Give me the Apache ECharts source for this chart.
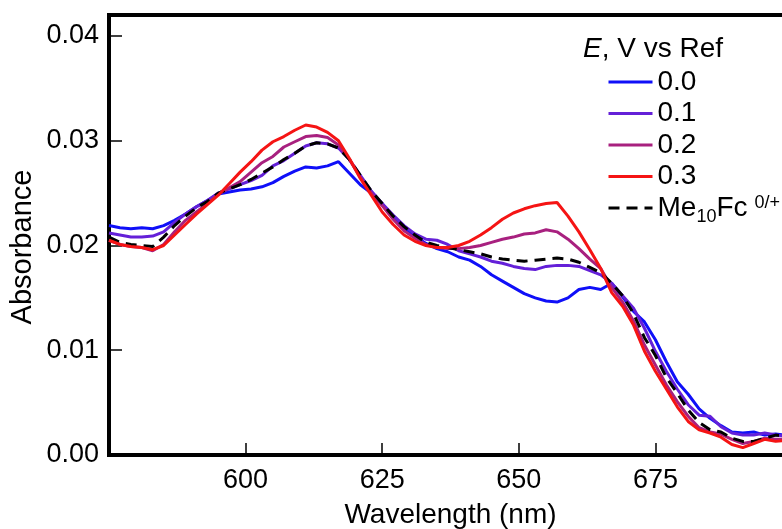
<!DOCTYPE html>
<html>
<head>
<meta charset="utf-8">
<script src="https://cdn.jsdelivr.net/npm/echarts@6/dist/echarts.min.js"></script>
<style>
  html, body { margin: 0; padding: 0; background: #fff; }
  #chart { width: 782px; height: 529px; }
</style>
</head>
<body>
<div id="chart"></div>
<script>
// wavelength (nm)
var wavelengths = [575, 577, 579, 581, 583, 585, 587, 589, 591, 593, 595, 597, 599, 601, 603, 605, 607, 609, 611, 613,
    615, 617, 619, 621, 623, 625, 627, 629, 631, 633, 635, 637, 639, 641, 643, 645, 647, 649, 651, 653,
    655, 657, 659, 661, 663, 665, 667, 669, 671, 673, 675, 677, 679, 681, 683, 685, 687, 689, 691, 693,
    695, 697, 699];

// absorbance at E = 0.0 V
var abs00 = [0.0219, 0.0217, 0.0216, 0.0217, 0.0216, 0.0219, 0.0224, 0.0230, 0.0237, 0.0243, 0.0249, 0.0251, 0.0253, 0.0254, 0.0256, 0.0260, 0.0266, 0.0271, 0.0275, 0.0274,
    0.0276, 0.0280, 0.0269, 0.0258, 0.0250, 0.0240, 0.0227, 0.0216, 0.0209, 0.0202, 0.0197, 0.0194, 0.0189, 0.0186, 0.0180, 0.0172, 0.0166, 0.0160, 0.0154, 0.0150,
    0.0147, 0.0146, 0.0150, 0.0158, 0.0160, 0.0158, 0.0164, 0.0151, 0.0137, 0.0127, 0.0110, 0.0089, 0.0070, 0.0058, 0.0044, 0.0035, 0.0028, 0.0022, 0.0021, 0.0022,
    0.0019, 0.0020, 0.0019];

// E = 0.1 V
var abs01 = [0.0212, 0.0210, 0.0208, 0.0208, 0.0209, 0.0213, 0.0222, 0.0230, 0.0237, 0.0243, 0.0250, 0.0254, 0.0258, 0.0262, 0.0267, 0.0276, 0.0281, 0.0288, 0.0295, 0.0298,
    0.0297, 0.0293, 0.0282, 0.0267, 0.0252, 0.0240, 0.0229, 0.0219, 0.0211, 0.0206, 0.0205, 0.0201, 0.0195, 0.0192, 0.0189, 0.0185, 0.0183, 0.0180, 0.0178, 0.0177,
    0.0180, 0.0181, 0.0181, 0.0180, 0.0176, 0.0172, 0.0164, 0.0152, 0.0140, 0.0121, 0.0099, 0.0080, 0.0063, 0.0048, 0.0038, 0.0037, 0.0027, 0.0021, 0.0019, 0.0019,
    0.0021, 0.0019, 0.0018];

// E = 0.2 V
var abs02 = [0.0205, 0.0201, 0.0199, 0.0198, 0.0195, 0.0201, 0.0213, 0.0224, 0.0232, 0.0240, 0.0249, 0.0255, 0.0261, 0.0270, 0.0279, 0.0285, 0.0294, 0.0299, 0.0304, 0.0305,
    0.0303, 0.0296, 0.0282, 0.0265, 0.0250, 0.0238, 0.0225, 0.0214, 0.0207, 0.0201, 0.0198, 0.0197, 0.0197, 0.0198, 0.0200, 0.0203, 0.0206, 0.0208, 0.0211, 0.0212,
    0.0215, 0.0213, 0.0206, 0.0197, 0.0187, 0.0178, 0.0160, 0.0146, 0.0128, 0.0105, 0.0086, 0.0067, 0.0051, 0.0037, 0.0026, 0.0022, 0.0020, 0.0015, 0.0011, 0.0013,
    0.0016, 0.0015, 0.0015];

// E = 0.3 V
var abs03 = [0.0205, 0.0201, 0.0199, 0.0198, 0.0196, 0.0200, 0.0210, 0.0220, 0.0230, 0.0239, 0.0248, 0.0259, 0.0270, 0.0280, 0.0291, 0.0299, 0.0304, 0.0310, 0.0315, 0.0313,
    0.0308, 0.0300, 0.0283, 0.0264, 0.0248, 0.0232, 0.0220, 0.0210, 0.0204, 0.0200, 0.0198, 0.0198, 0.0200, 0.0204, 0.0210, 0.0217, 0.0225, 0.0231, 0.0235, 0.0238,
    0.0240, 0.0241, 0.0228, 0.0213, 0.0196, 0.0178, 0.0155, 0.0142, 0.0124, 0.0099, 0.0080, 0.0063, 0.0046, 0.0032, 0.0024, 0.0021, 0.0017, 0.0010, 0.0007, 0.0011,
    0.0015, 0.0013, 0.0014];

// Me10Fc 0/+ reference
var absFc = [0.0208, 0.0203, 0.0201, 0.0200, 0.0199, 0.0208, 0.0219, 0.0228, 0.0236, 0.0242, 0.0250, 0.0254, 0.0258, 0.0263, 0.0269, 0.0275, 0.0282, 0.0288, 0.0295, 0.0298,
    0.0297, 0.0293, 0.0282, 0.0267, 0.0252, 0.0240, 0.0228, 0.0218, 0.0210, 0.0203, 0.0200, 0.0198, 0.0196, 0.0194, 0.0192, 0.0189, 0.0187, 0.0186, 0.0185, 0.0186,
    0.0187, 0.0188, 0.0187, 0.0184, 0.0179, 0.0174, 0.0164, 0.0152, 0.0135, 0.0112, 0.0095, 0.0074, 0.0059, 0.0043, 0.0031, 0.0024, 0.0022, 0.0016, 0.0013, 0.0013,
    0.0016, 0.0019, 0.0018];

var legendOrder = ['0.0', '0.1', '0.2', '0.3', 'Me10Fc'];

var FONT = 'Liberation Sans, Arial, sans-serif';

function pares(ys) {
    return wavelengths.map(function (x, i) { return [x, ys[i]]; });
}

function serie(nome, ys, cor, tipo) {
    return {
        name: nome,
        type: 'line',
        symbol: 'none',
        showSymbol: false,
        data: pares(ys),
        lineStyle: { color: cor, width: 3, type: tipo || 'solid' },
        itemStyle: { color: cor },
        emphasis: { disabled: true }
    };
}

var chart = echarts.init(document.getElementById('chart'));

chart.setOption({
    animation: false,
    backgroundColor: '#fff',
    grid: {
        left: 109, top: 15, width: 683, height: 440,
        outerBoundsMode: 'none', containLabel: false,
        show: true, borderColor: '#000', borderWidth: 4, backgroundColor: 'transparent'
    },
    xAxis: {
        type: 'value', min: 575, max: 700, interval: 25,
        name: 'Wavelength (nm)', nameLocation: 'middle', nameGap: 46,
        nameTextStyle: { fontFamily: FONT, fontSize: 28, color: '#000' },
        axisLine: { lineStyle: { color: '#000', width: 4 } },
        axisTick: { inside: true, length: 12, lineStyle: { color: '#000', width: 1.5 } },
        axisLabel: { showMinLabel: false, showMaxLabel: false, margin: 12, fontFamily: FONT, fontSize: 27, color: '#000' },
        splitLine: { show: false }
    },
    yAxis: {
        type: 'value', min: 0, max: 0.042, interval: 0.01,
        axisLine: { lineStyle: { color: '#000', width: 4 } },
        axisTick: { inside: true, length: 13, lineStyle: { color: '#000', width: 1.5 } },
        axisLabel: {
            showMaxLabel: false, margin: 10, fontFamily: FONT, fontSize: 27, color: '#000',
            formatter: function (v) { return v.toFixed(2); }
        },
        splitLine: { show: false }
    },
    legend: {
        data: legendOrder,
        orient: 'vertical',
        left: 607, top: 68,
        padding: 0,
        itemWidth: 44, itemHeight: 26, itemGap: 3.5,
        itemStyle: { opacity: 0 },
        lineStyle: { width: 3 },
        textStyle: {
            fontFamily: FONT, fontSize: 28, color: '#000',
            rich: {
                t: { fontFamily: FONT, fontSize: 28, color: '#000' },
                s: { fontFamily: FONT, fontSize: 18, color: '#000', verticalAlign: 'bottom', padding: [0, 0, -4, 0] },
                p: { fontFamily: FONT, fontSize: 18, color: '#000', verticalAlign: 'top', padding: [0, 0, 0, 7] }
            }
        },
        formatter: function (nome) {
            if (nome === 'Me10Fc') {
                return '{t|Me}{s|10}{t|Fc}{p|0/+}';
            }
            return nome;
        }
    },
    graphic: [
        {
            type: 'text', left: 583, top: 35,
            style: {
                text: '{i|E}, V vs Ref',
                fontFamily: FONT, fontSize: 28, fill: '#000',
                rich: { i: { fontFamily: FONT, fontSize: 28, fontStyle: 'italic', color: '#000' } }
            }
        },
        {
            type: 'text', x: 23, y: 247, rotation: Math.PI / 2,
            style: {
                text: 'Absorbance', fontFamily: FONT, fontSize: 29, fill: '#000',
                align: 'center', verticalAlign: 'middle'
            }
        }
    ],
    series: [
        serie('0.0', abs00, '#0f0ff8'),
        serie('0.1', abs01, '#6420d8'),
        serie('0.2', abs02, '#a8207f'),
        serie('Me10Fc', absFc, '#000000', [11, 7]),
        serie('0.3', abs03, '#f51414')
    ]
});
</script>
</body>
</html>
